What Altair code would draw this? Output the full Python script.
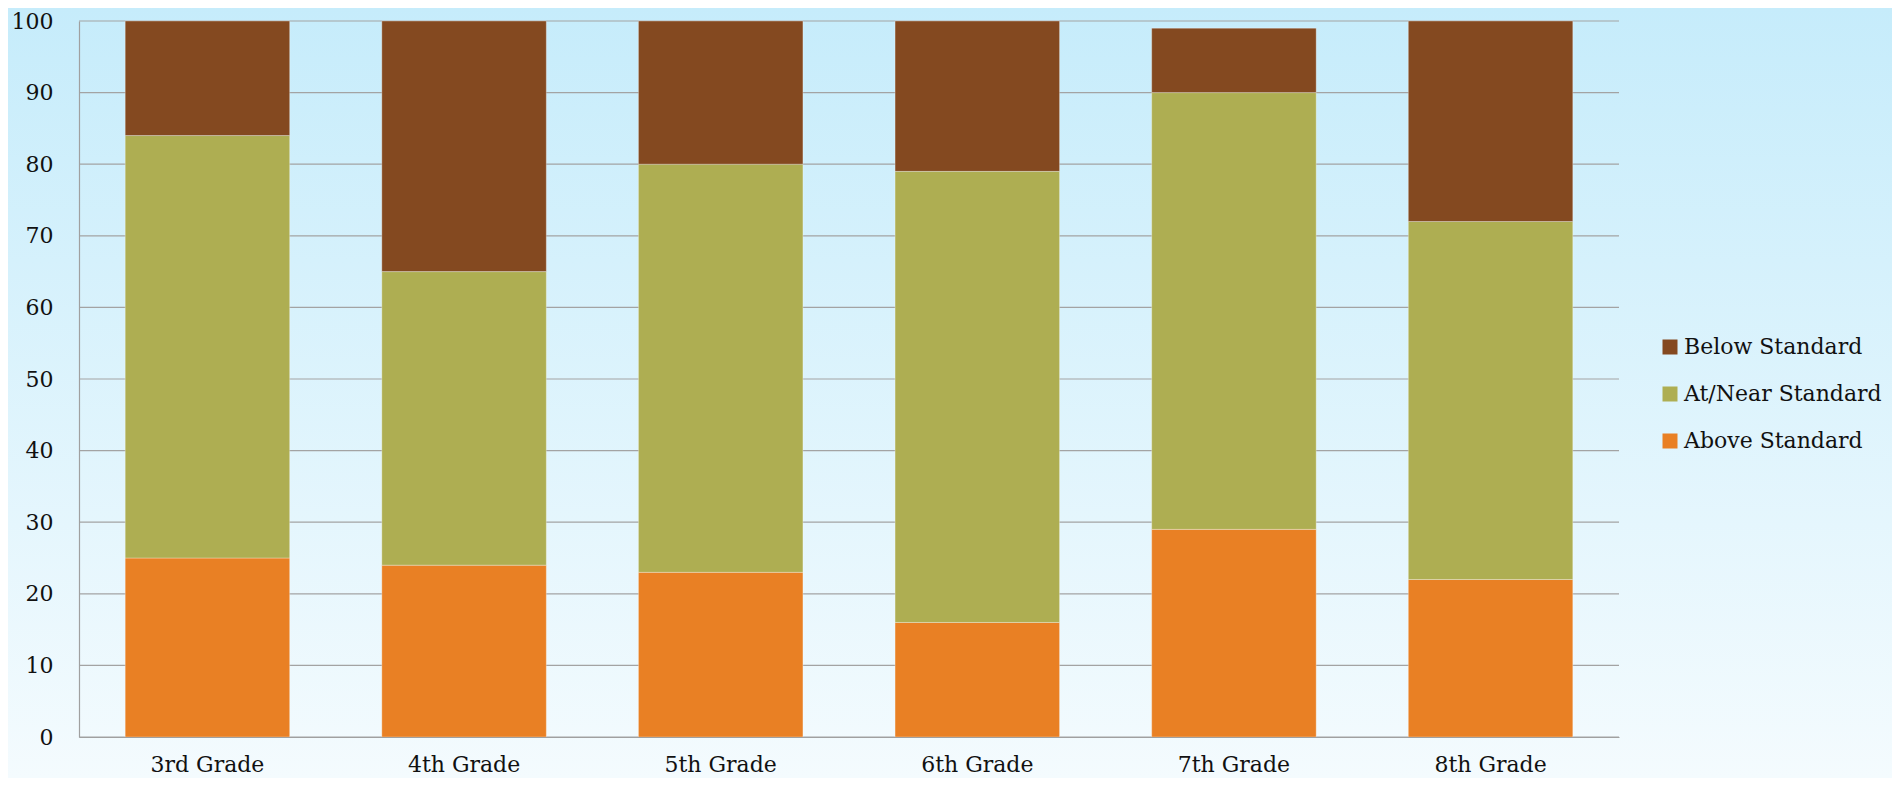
import altair as alt
import pandas as pd

grades = ["3rd Grade", "4th Grade", "5th Grade", "6th Grade", "7th Grade", "8th Grade"]
above = [25, 24, 23, 16, 29, 22]
at_near = [59, 41, 57, 63, 61, 50]
below = [16, 35, 20, 21, 9, 28]
levels = ["Below Standard", "At/Near Standard", "Above Standard"]
colors = ["#844920", "#aeae52", "#e98024"]
y_ticks = list(range(0, 101, 10))

rows = []
for i, g in enumerate(grades):
    rows.append({"grade": g, "level": "Above Standard", "value": above[i], "rank": 0})
    rows.append({"grade": g, "level": "At/Near Standard", "value": at_near[i], "rank": 1})
    rows.append({"grade": g, "level": "Below Standard", "value": below[i], "rank": 2})
df = pd.DataFrame(rows)

W, H = 1540, 716
PADL, PADT, PADR, PADB = 71, 13, 273, 41
FONT = "DejaVu Serif"

yscale = alt.Scale(domain=[0, 100], nice=False)
yaxis = alt.Axis(title=None, values=y_ticks, ticks=False, tickSize=0, grid=False,
                 domainColor="#a0a0a0", domainWidth=1.2, labelFont=FONT, labelFontSize=22,
                 labelColor="#111111", labelPadding=26, zindex=1)

bg = alt.Chart(pd.DataFrame({"a": [0]})).mark_rect(
    fill=alt.Gradient(gradient="linear",
                      stops=[alt.GradientStop(color="#c6ecfb", offset=0),
                             alt.GradientStop(color="#f4fbfe", offset=1)],
                      x1=0, x2=0, y1=0, y2=1)
).encode(x=alt.value(-PADL), x2=alt.value(W + PADR), y=alt.value(-PADT), y2=alt.value(H + PADB))

grid = alt.Chart(pd.DataFrame({"t": y_ticks})).mark_rule(color="#a3a3a3", strokeWidth=1.2).encode(
    y=alt.Y("t:Q", scale=yscale, axis=yaxis),
    x=alt.value(0), x2=alt.value(W),
)

bars = alt.Chart(df).mark_bar(stroke="white", strokeOpacity=0.3, strokeWidth=1).encode(
    x=alt.X("grade:N", sort=grades,
            scale=alt.Scale(paddingInner=0.359, paddingOuter=0.18),
            axis=alt.Axis(title=None, labelAngle=0, ticks=False, tickSize=0, grid=False,
                          domainColor="#a0a0a0", domainWidth=1.2, labelFont=FONT,
                          labelFontSize=22, labelColor="#111111", labelPadding=34,
                          labelBaseline="alphabetic", zindex=1)),
    y=alt.Y("sum(value):Q", stack="zero", scale=yscale, axis=yaxis),
    color=alt.Color("level:N", scale=alt.Scale(domain=levels, range=colors),
                    legend=alt.Legend(title=None, orient="none", legendX=1580, legendY=315,
                                      symbolType="square", symbolSize=225, symbolStrokeWidth=0,
                                      labelFont=FONT, labelFontSize=22, labelColor="#111111",
                                      labelLimit=400, rowPadding=25, labelOffset=3)),
    order=alt.Order("rank:Q"),
)

chart = alt.layer(bg, grid, bars).properties(
    width=W, height=H,
    autosize=alt.AutoSizeParams(type="none"),
    padding={"left": PADL, "top": PADT, "right": PADR, "bottom": PADB},
).configure(background="#e4f5fd").configure_view(stroke=None)

chart.save("out.html", embed_options={"renderer": "svg", "actions": False})
